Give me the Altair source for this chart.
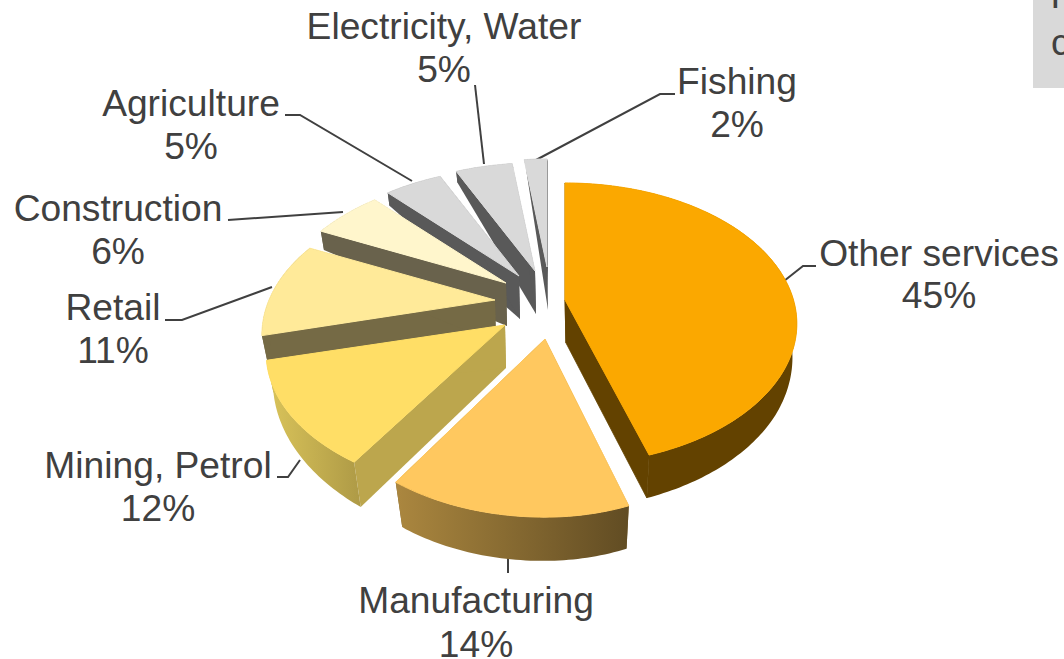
import math
import altair as alt
import numpy as np
import pandas as pd

# Employment shares by sector, clockwise from twelve o'clock
sectors = ["Other services", "Manufacturing", "Mining, Petrol", "Retail",
           "Construction", "Agriculture", "Electricity, Water", "Fishing"]
shares = [45, 14, 12, 11, 6, 5, 5, 2]

top_colors = ["#FBA800", "#FFC85F", "#FFDE66", "#FFEA99",
              "#FFF6CC", "#D9D9D9", "#D9D9D9", "#D9D9D9"]
wall_colors = ["#634200", "#7D6230", "#BCA64D", "#756A45",
               "#69624C", "#595959", "#595959", "#595959"]
# Rim shading from left to right where the rim is lit unevenly
rim_shades = {"Manufacturing": ("#AB873F", "#614C23"),
              "Mining, Petrol": ("#DAC45A", "#AE9A46")}

# Pulled-out hub of every wedge on the page
hubs = {"Other services": (565, 300), "Manufacturing": (545, 339),
        "Mining, Petrol": (505, 325), "Retail": (495, 300),
        "Construction": (506, 283), "Agriculture": (519, 276),
        "Electricity, Water": (535, 271), "Fishing": (547, 267)}

# Perspective of the tilted disc: left and right half-width, depth, foreshortening
DISC = (226.0, 226.0, 134.5, 0.245)
DISC_BY_WEDGE = {"Other services": (228.5, 228.5, 136.8, 0.169),
                 "Manufacturing": (221.0, 208.0, 134.5, 0.245),
                 "Mining, Petrol": (234.0, 234.0, 135.0, 0.2)}
HUB_DEPTH = 43.0
DEPTH_ANGLE = [0, 90, 120, 162, 212, 256, 295, 317, 335, 353, 360]
DEPTH_PX = [3, 35, 40, 43, 45, 32, 19, 13, 11, 4, 3]


def rim_offset(theta, name):
    """Offset from a wedge's hub to its rim at a clockwise angle in degrees."""
    rx_l, rx_r, ry, persp = DISC_BY_WEDGE.get(name, DISC)
    t = math.radians(theta)
    w = 1 + persp * math.cos(t)
    rx = rx_r if math.sin(t) > 0 else rx_l
    return rx * math.sin(t) / w, -ry * math.cos(t) / w


def upper(theta, name):
    hub = hubs[name]
    dx, dy = rim_offset(theta, name)
    return hub[0] + dx, hub[1] + dy


def lower(theta, name):
    """Point on the underside of the wedge below its rim."""
    hub = hubs[name]
    dx, dy = rim_offset(theta, name)
    squeeze = 0.98 + 0.02 * math.cos(math.radians(theta))
    return (hub[0] + 1 + squeeze * dx,
            hub[1] + dy + float(np.interp(theta, DEPTH_ANGLE, DEPTH_PX)))


def polygon_rows(polygons):
    rows = []
    for pid, points in enumerate(polygons):
        for i, (x, y) in enumerate(list(points) + [points[0]]):
            rows.append({"poly": pid, "step": i, "x": x, "y": y})
    return pd.DataFrame(rows)


page_x = alt.Scale(domain=[0, 1064], range=[0, 1064])
page_y = alt.Scale(domain=[0, 659], range=[0, 659])
X = alt.X("x:Q", scale=page_x, axis=None)
Y = alt.Y("y:Q", scale=page_y, axis=None)


def shape_layer(polygons, **mark):
    return alt.Chart(polygon_rows(polygons)).mark_line(interpolate="linear", **mark).encode(
        x=X, y=Y, order="step:Q", detail="poly:N",
    )


# Wedge spans in degrees, taken from the shares
edges = np.cumsum([0] + shares) * 3.6
spans = {s: (float(edges[i]), float(edges[i + 1])) for i, s in enumerate(sectors)}

# Painted back to front, each wedge as walls, rim, then its top face
wedge_layers = []
for name in ["Fishing", "Electricity, Water", "Agriculture", "Construction",
             "Retail", "Mining, Petrol", "Manufacturing", "Other services"]:
    i = sectors.index(name)
    a0, a1 = spans[name]
    hub = hubs[name]
    hub_low = (hub[0] + 1, hub[1] + HUB_DEPTH)
    angles = [float(a) for a in np.linspace(a0, a1, max(3, int(a1 - a0)) + 1)]
    # A thin stroke on the big wedge's walls closes the joint with its rim
    seam = 0.8 if name == "Other services" else 0

    walls = [[hub, upper(a, name), lower(a, name), hub_low] for a in (a0, a1)]
    wedge_layers.append(shape_layer(walls, fill=wall_colors[i], stroke=wall_colors[i], strokeWidth=seam))

    rim = [[upper(a, name) for a in angles] + [lower(a, name) for a in reversed(angles)]]
    if name in rim_shades:
        rim_fill = alt.LinearGradient(
            gradient="linear", x1=0, x2=1, y1=0, y2=0,
            stops=[alt.GradientStop(color=rim_shades[name][0], offset=0),
                   alt.GradientStop(color=rim_shades[name][1], offset=1)],
        )
    else:
        rim_fill = wall_colors[i]
    wedge_layers.append(shape_layer(rim, fill=rim_fill, strokeWidth=0))

    top = [[hub] + [upper(a, name) for a in angles]]
    wedge_layers.append(shape_layer(top, fill=top_colors[i], stroke=top_colors[i], strokeWidth=1))

# Leader lines from each label to its wedge
leaders = {
    "Other services": [(784, 281), (803, 266), (816, 266)],
    "Manufacturing": [(508, 556), (508, 573)],
    "Mining, Petrol": [(300, 460), (288, 477), (277, 477)],
    "Retail": [(272, 287), (182, 320), (165, 320)],
    "Construction": [(343, 212), (228, 220)],
    "Agriculture": [(412, 181), (300, 115), (285, 115)],
    "Electricity, Water": [(484, 164), (475, 85)],
    "Fishing": [(536, 160), (660, 94), (675, 94)],
}
leader_df = pd.DataFrame([
    {"name": k, "step": j, "x": p[0], "y": p[1]}
    for k, pts in leaders.items() for j, p in enumerate(pts)
])

# Label anchors: name line, with the share one line below
label_pos = {
    "Other services": (939, 255, 297), "Manufacturing": (476, 602, 646),
    "Mining, Petrol": (158, 467, 510), "Retail": (113, 309, 352),
    "Construction": (118, 210, 253), "Agriculture": (191, 105, 148),
    "Electricity, Water": (444, 28, 71), "Fishing": (737, 83, 126),
}
text_rows = []
for s, v in zip(sectors, shares):
    cx, y0, y1 = label_pos[s]
    text_rows.append({"x": cx, "y": y0, "t": s})
    text_rows.append({"x": cx, "y": y1, "t": f"{v}%"})
labels = pd.DataFrame(text_rows)

note_box = pd.DataFrame([{"x": 1033, "x2": 1064, "y": 0, "y2": 88}])
note_text = pd.DataFrame([{"x": 1044, "y": 8, "t": "T"}, {"x": 1051, "y": 55, "t": "c"}])

leader_layer = alt.Chart(leader_df).mark_line(color="#404040", strokeWidth=2).encode(
    x=X, y=Y, order="step:Q", detail="name:N",
)
label_layer = alt.Chart(labels).mark_text(
    font="Liberation Sans", fontSize=37.2, color="#404040", align="center", baseline="middle",
).encode(x=X, y=Y, text="t:N")
box_layer = alt.Chart(note_box).mark_rect(color="#D9D9D9").encode(
    x=X, x2="x2:Q", y=Y, y2="y2:Q",
)
note_layer = alt.Chart(note_text).mark_text(
    font="Liberation Sans", fontSize=37.2, color="#404040", align="left", baseline="alphabetic",
).encode(x=X, y=Y, text="t:N")

chart = alt.layer(
    box_layer, note_layer, leader_layer, *wedge_layers, label_layer
).properties(
    width=1064, height=659, padding=0, autosize=alt.AutoSizeParams(type="none"),
    background="white",
).configure_view(stroke=None)

chart.save("out.html", embed_options={"renderer": "svg", "actions": False})
